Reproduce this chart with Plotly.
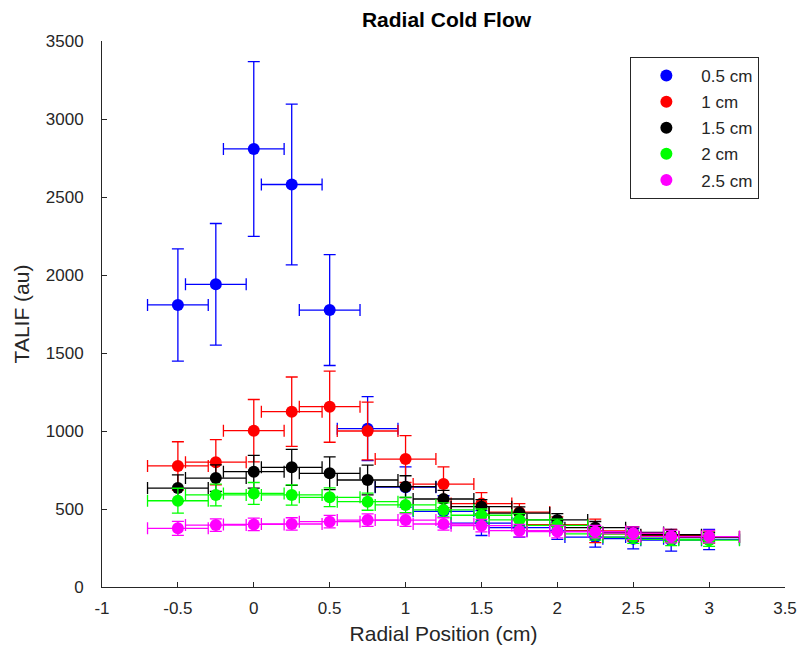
import plotly.graph_objects as go

x_pos = [-0.5, -0.25, 0, 0.25, 0.5, 0.75, 1, 1.25, 1.5, 1.75, 2, 2.25, 2.5, 2.75, 3]
x_err = [0.2] * 15

names = ["0.5 cm", "1 cm", "1.5 cm", "2 cm", "2.5 cm"]
colors = ["#0000ff", "#ff0000", "#000000", "#00ff00", "#ff00ff"]

y_05 = [1808, 1940, 2808, 2580, 1775, 1015, 640, 485, 410, 380, 360, 320, 310, 300, 305]
e_05 = [360, 390, 560, 515, 355, 205, 130, 100, 80, 60, 55, 65, 65, 70, 65]

y_10 = [776, 800, 1002, 1124, 1156, 1000, 820, 660, 535, 480, 400, 360, 340, 330, 320]
e_10 = [155, 145, 200, 222, 228, 185, 150, 110, 70, 55, 50, 75, 45, 40, 40]

y_15 = [634, 698, 739, 767, 729, 686, 643, 564, 515, 474, 430, 380, 350, 335, 320]
e_15 = [85, 85, 105, 115, 105, 95, 70, 55, 45, 40, 40, 40, 35, 30, 30]

y_20 = [553, 590, 600, 590, 575, 547, 526, 494, 460, 430, 395, 340, 320, 305, 300]
e_20 = [80, 70, 70, 65, 60, 55, 50, 45, 40, 40, 40, 40, 40, 40, 40]

y_25 = [376, 397, 401, 404, 419, 429, 429, 404, 393, 361, 355, 355, 345, 323, 323]
e_25 = [45, 40, 40, 40, 40, 40, 40, 40, 40, 40, 40, 40, 40, 40, 40]

series = [y_05, y_10, y_15, y_20, y_25]
errors = [e_05, e_10, e_15, e_20, e_25]

FONT = "Liberation Sans, Arial, sans-serif"
AX = "#262626"

fig = go.Figure()
for i, (nm, col, ys, es) in enumerate(zip(names, colors, series, errors)):
    fig.add_trace(go.Scatter(
        x=x_pos, y=ys, mode="markers", name=nm, legendgroup=nm,
        marker=dict(color=col, size=12, symbol="circle", line=dict(width=0)),
        error_y=dict(type="data", array=es, color=col, thickness=1.3, width=6),
        error_x=dict(type="data", array=x_err, color=col, thickness=1.3, width=6),
    ))

fig.update_layout(
    width=809, height=654,
    margin=dict(l=102, r=18, t=41, b=67),
    paper_bgcolor="white", plot_bgcolor="white",
    font=dict(family=FONT, color=AX),
    title=dict(text="<b>Radial Cold Flow</b>", x=(102 + 791) / 2 / 809, xanchor="center",
               y=1 - 20 / 654, yanchor="middle", font=dict(size=21, color="#000000")),
    showlegend=True,
    legend=dict(x=0.7736, y=0.9707, xanchor="left", yanchor="top",
                bordercolor=AX, borderwidth=1, bgcolor="white", itemwidth=60,
                font=dict(size=17, color=AX), traceorder="grouped", tracegroupgap=1),
    xaxis=dict(range=[-1, 3.5], tickvals=[-1, -0.5, 0, 0.5, 1, 1.5, 2, 2.5, 3, 3.5],
               ticktext=["-1", "-0.5", "0", "0.5", "1", "1.5", "2", "2.5", "3", "3.5"],
               showgrid=False, zeroline=False, showline=True, linecolor=AX, linewidth=1,
               ticks="inside", ticklen=5, tickcolor=AX, tickfont=dict(size=17, color=AX),
               ticklabelstandoff=6,
               title=dict(text="Radial Position (cm)", font=dict(size=21, color=AX), standoff=8)),
    yaxis=dict(range=[0, 3500], tickvals=[0, 500, 1000, 1500, 2000, 2500, 3000, 3500],
               showgrid=False, zeroline=False, showline=True, linecolor=AX, linewidth=1,
               ticks="inside", ticklen=5, tickcolor=AX, tickfont=dict(size=17, color=AX),
               ticklabelstandoff=14,
               title=dict(text="TALIF (au)", font=dict(size=21, color=AX), standoff=10)),
)

fig.write_html("out.html")
